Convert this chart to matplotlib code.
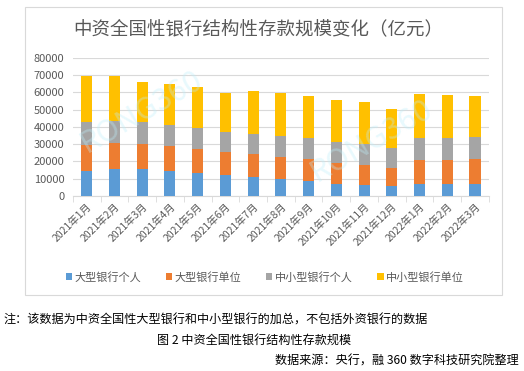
import numpy as np
import matplotlib.pyplot as plt
from matplotlib.patches import Rectangle

plt.rcParams['font.family'] = ['Noto Sans CJK SC', 'DejaVu Sans']

months = ['2021年1月', '2021年2月', '2021年3月', '2021年4月', '2021年5月', '2021年6月',
          '2021年7月', '2021年8月', '2021年9月', '2021年10月', '2021年11月', '2021年12月',
          '2022年1月', '2022年2月', '2022年3月']
big_personal = [14500, 15700, 15700, 14500, 13300, 12200, 11000, 9900, 8700, 7000, 6400, 6000, 7000, 7000, 7000]
big_unit = [15100, 15000, 14400, 14500, 13900, 13300, 13300, 12700, 12700, 12100, 11600, 10400, 13900, 13900, 14400]
small_personal = [13500, 12800, 13000, 12200, 12200, 11600, 11600, 12200, 12200, 12200, 12100, 11600, 12700, 12700, 12800]
small_unit = [26700, 26300, 23000, 23700, 23800, 22600, 25000, 24900, 24400, 24400, 24400, 22400, 25700, 25000, 23800]
series_names = ['大型银行个人', '大型银行单位', '中小型银行个人', '中小型银行单位']
colors = ['#5B9BD5', '#ED7D31', '#A5A5A5', '#FFC000']

fig = plt.figure(figsize=(5.24, 3.71), dpi=100)
fig.patches.append(Rectangle((0.0477, 0.205), 0.9103, 0.776, transform=fig.transFigure,
                             fill=False, edgecolor='#d9d9d9', linewidth=0.8))
ax = fig.add_axes([0.139, 0.4717, 0.794, 0.372])

x = np.arange(len(months))
bottom = np.zeros(len(months))
for name, vals, c in zip(series_names, [big_personal, big_unit, small_personal, small_unit], colors):
    ax.bar(x, vals, 0.4, bottom=bottom, color=c, label=name, zorder=3)
    bottom += np.array(vals)

ax.set_ylim(0, 80000)
ax.set_xlim(-0.5, len(months) - 0.5)
ax.set_yticks(range(0, 80001, 10000))
ax.yaxis.grid(True, color='#d9d9d9', linewidth=0.8, zorder=0)
for s in ['left', 'right', 'top']:
    ax.spines[s].set_visible(False)
ax.spines['bottom'].set_color('#d9d9d9')
ax.tick_params(axis='y', length=0, labelsize=8, labelcolor='#595959', pad=6)
ax.set_xticks(x)
ax.set_xticklabels(months, rotation=45, ha='right', rotation_mode='anchor', fontsize=7.5, color='#595959')
ax.tick_params(axis='x', length=0, pad=4)
ax.set_xticks(np.arange(-0.5, len(months)), minor=True)
ax.tick_params(axis='x', which='minor', length=4, color='#d9d9d9')

fig.text(0.493, 0.92, '中资全国性银行结构性存款规模变化（亿元）', ha='center', va='center',
         fontsize=13.3, color='#595959')

fig.legend(loc='center', bbox_to_anchor=(0.505, 0.253), ncol=4, frameon=False, fontsize=8,
           handlelength=0.6, handleheight=0.6, handletextpad=0.2, columnspacing=2.2,
           labelcolor='#595959')

fig.text(0.006, 0.137, '注：该数据为中资全国性大型银行和中小型银行的加总，不包括外资银行的数据',
         ha='left', va='center', fontsize=8.7, color='black')
fig.text(0.485, 0.083, '图 2 中资全国性银行结构性存款规模', ha='center', va='center',
         fontsize=8.7, color='black')
fig.text(0.99, 0.028, '数据来源：央行，融 360 数字科技研究院整理', ha='right', va='center',
         fontsize=8.7, color='black')

fig.text(0.27, 0.7, 'RONG360', fontsize=22, color='#bdeefa', alpha=0.35, rotation=30,
         ha='center', va='center', zorder=5)
fig.text(0.71, 0.62, 'RONG360', fontsize=22, color='#bdeefa', alpha=0.35, rotation=30,
         ha='center', va='center', zorder=5)

fig.savefig('out.png', dpi=100)
